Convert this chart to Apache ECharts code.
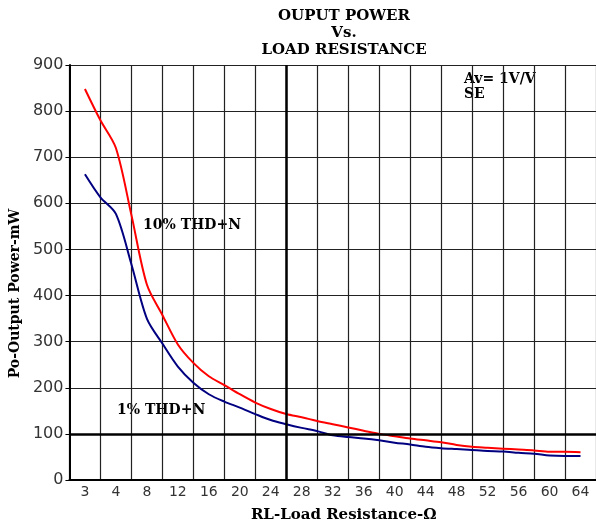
<!DOCTYPE html>
<html>
<head>
<meta charset="utf-8">
<style>
  html, body { margin: 0; padding: 0; background: #fff; }
  #chart { width: 596px; height: 528px; }
</style>
<script src="https://cdn.jsdelivr.net/npm/echarts@6/dist/echarts.min.js"></script>
</head>
<body>
<div id="chart"></div>
<script>
// load resistance (ohm) tick labels, one band each
var loads = ['3', '4', '8', '12', '16', '20', '24', '28', '32', '36', '40', '44', '48', '52', '56', '60', '64']

// where each reading was taken, in band units (0 = first band "3")
var samplePos = [0, 0.5, 1, 1.5, 2, 2.5, 3, 3.5, 4, 4.5, 5, 5.5, 6, 6.5, 7, 7.5, 8,
  8.5, 9, 9.5, 10, 10.5, 11, 11.5, 12, 12.5, 13, 13.5, 14, 14.5, 15, 15.5, 16]

// output power in mW
var thd10 = [848, 780, 720, 575, 424, 358, 294, 254, 225, 206, 186, 168, 154, 143, 136, 128, 121,
  114, 107, 100, 95, 90, 86, 82, 76, 72, 70, 68, 66, 64, 61, 61, 60]
var thd1 = [663, 613, 577, 468, 350, 296, 246, 211, 186, 170, 157, 143, 130, 121, 113, 106, 97,
  93, 90, 86, 81, 77, 72, 69, 67, 65, 63, 62, 59, 57, 53, 52, 52]

var serif = '"DejaVu Serif", "Liberation Serif", serif'
var sans = '"DejaVu Sans", sans-serif'

function pairs(ys) {
  return samplePos.map(function (x, i) { return [x, ys[i]] })
}

var chart = echarts.init(document.getElementById('chart'))
chart.setOption({
  animation: false,
  backgroundColor: '#fff',
  title: {
    text: 'OUPUT POWER\nVs.\nLOAD RESISTANCE',
    left: 339,
    top: 3,
    textAlign: 'center',
    textStyle: {
      fontFamily: serif,
      fontWeight: 'bold',
      fontSize: 15,
      lineHeight: 17,
      color: '#000'
    }
  },
  grid: {
    left: 66,
    right: 0,
    top: 65,
    bottom: 42
  },
  xAxis: [{
    type: 'category',
    data: loads,
    boundaryGap: true,
    name: 'RL-Load Resistance-Ω',
    nameLocation: 'middle',
    nameGap: 28,
    nameTextStyle: {
      fontFamily: serif,
      fontWeight: 'bold',
      fontSize: 15,
      color: '#000',
      padding: [0, 0, 0, 22]
    },
    axisLine: { lineStyle: { color: '#000', width: 2 } },
    axisTick: { show: false },
    axisLabel: {
      fontFamily: sans,
      fontSize: 14,
      color: '#333',
      margin: 5
    },
    splitLine: { show: true, lineStyle: { color: '#222', width: 1.2 } }
  }, {
    type: 'value',
    min: -0.5,
    max: 16.5,
    show: false
  }],
  yAxis: {
    type: 'value',
    min: 0,
    max: 900,
    interval: 100,
    name: 'Po-Output Power-mW',
    nameLocation: 'middle',
    nameGap: 40,
    nameRotate: 90,
    nameTextStyle: {
      fontFamily: serif,
      fontWeight: 'bold',
      fontSize: 14,
      color: '#000',
      padding: [0, 0, 0, -42]
    },
    axisLine: { show: true, onZero: false, lineStyle: { color: '#000', width: 2 } },
    axisTick: { show: true, length: 4, lineStyle: { color: '#000' } },
    axisLabel: {
      fontFamily: sans,
      fontSize: 16,
      color: '#333',
      margin: 6
    },
    splitLine: { lineStyle: { color: '#222', width: 1.2 } }
  },
  series: [{
    name: '10% THD+N',
    type: 'line',
    xAxisIndex: 1,
    data: pairs(thd10),
    smooth: 0.3,
    symbol: 'none',
    lineStyle: { color: '#ff0000', width: 2 },
    markLine: {
      silent: true,
      symbol: 'none',
      label: { show: false },
      lineStyle: { color: '#000', width: 2.5, type: 'solid' },
      data: [{ xAxis: 6.5 }, { yAxis: 100 }]
    }
  }, {
    name: '1% THD+N',
    type: 'line',
    xAxisIndex: 1,
    data: pairs(thd1),
    smooth: 0.3,
    symbol: 'none',
    lineStyle: { color: '#000080', width: 2 }
  }],
  graphic: [{
    type: 'text',
    left: 143,
    top: 218,
    style: { text: '10% THD+N', font: 'bold 14px ' + serif, fill: '#000' }
  }, {
    type: 'text',
    left: 117,
    top: 403,
    style: { text: '1% THD+N', font: 'bold 14px ' + serif, fill: '#000' }
  }, {
    type: 'text',
    left: 464,
    top: 72,
    style: { text: 'Av= 1V/V\nSE', font: 'bold 14px ' + serif, lineHeight: 15, fill: '#000' }
  }]
})
</script>
</body>
</html>
